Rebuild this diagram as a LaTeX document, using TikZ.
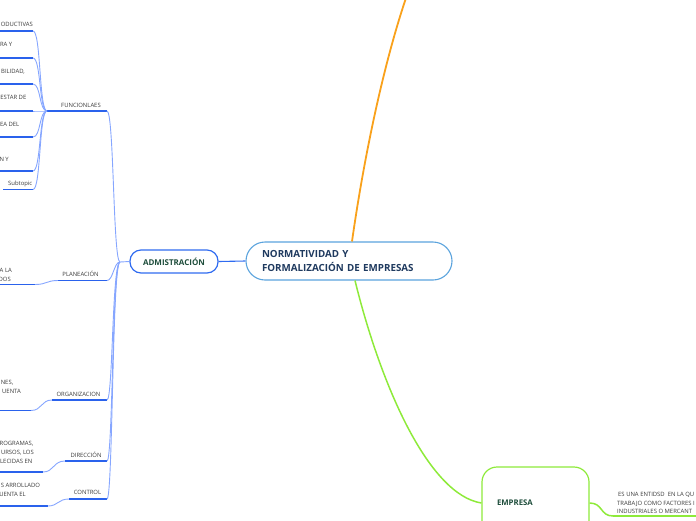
\documentclass[tikz,border=0pt]{standalone}
\usepackage{fontspec}
\setmainfont{Open Sans}
\definecolor{ublue}{HTML}{2A62EC}
\definecolor{cblue}{HTML}{86A6FF}
\definecolor{txtgray}{HTML}{3A3A3A}
\definecolor{mainborder}{HTML}{5BA3DD}
\definecolor{navy}{HTML}{1F3A5F}
\definecolor{admborder}{HTML}{2F6BF0}
\definecolor{dgreen}{HTML}{1E4D3B}
\definecolor{orangeline}{HTML}{F9A11B}
\definecolor{limeline}{HTML}{8EEA3A}
\begin{document}
\begin{tikzpicture}[x=1pt,y=-1pt,
  lab/.style={font=\fontsize{5.9}{7}\selectfont, text=txtgray, inner sep=0pt, text height=4.2pt, text depth=0pt},
  ul/.style={draw=ublue, line width=1.8pt},
  br/.style={draw=cblue, line width=0.9pt},
  central/.style={draw=mainborder, line width=1.1pt, rounded corners=19pt, minimum width=206pt, minimum height=38pt,
    text width=174pt, inner xsep=16pt, align=left, text=navy, font=\fontsize{9.8}{14.7}\selectfont\bfseries},
  admbox/.style={draw=admborder, line width=1.2pt, rounded corners=11pt, minimum width=88pt, minimum height=23pt,
    text=dgreen, font=\fontsize{8}{9}\selectfont\bfseries},
  empbox/.style={draw=limeline, line width=1.2pt, rounded corners=15pt, minimum width=107pt, minimum height=72pt,
    text width=77pt, inner xsep=15pt, align=left, text=dgreen, font=\fontsize{7.8}{9}\selectfont\bfseries},
  ol/.style={draw=orangeline, line width=1.8pt},
  gl/.style={draw=limeline, line width=1.5pt},
  gul/.style={draw=limeline, line width=2pt}
]
\useasboundingbox (0,0) rectangle (696,520);
\clip (0,0) rectangle (696,520);

% central and main branch
\node[central] (main) at (349,261) {NORMATIVIDAD Y\\FORMALIZACIÓN DE EMPRESAS};
\node[admbox] (adm) at (174,261.5) {ADMISTRACIÓN};
\draw[draw=admborder, line width=1.1pt] (main.west) -- (adm.east);
\coordinate (hub) at (120,262);
\draw[br] (adm.west) -- (hub);

% orange and green
\coordinate (otop) at (406,-2);
\draw[ol] ([xshift=3pt]main.north) .. controls (365,150) and (385,60) .. (otop);
\node[empbox] (emp) at (535.5,503) {EMPRESA};
\draw[gl] ([xshift=6pt]main.south) .. controls (382,390) and (430,495) .. (emp.west);
\coordinate (e1) at (613,516);
\coordinate (e2) at (700,516);
\draw[gl] (emp.east) .. controls (603,503) and (600,516) .. (e1);
\draw[gul] (e1) -- (e2);
\node[lab, anchor=west] (et1) at (618,494) {ES UNA ENTIDSD~ EN LA QU};
\node[lab, anchor=west] (et2) at (617,503) {TRABAJO COMO FACTORES I};
\node[lab, anchor=west] (et3) at (617,511.5) {INDUSTRIALES O MERCANT};

% FUNCIONLAES
\coordinate (f0) at (47,111);
\coordinate (f1) at (107,111);
\draw[ul] (f0) -- (f1);
\node[lab] (fun) at (81,105) {FUNCIONLAES};
\draw[br] (f1) .. controls (114,111) and (113,262) .. (hub);

\coordinate (a1l) at (-2,31);  \coordinate (a1r) at (33,31);
\coordinate (a2l) at (-2,58);  \coordinate (a2r) at (33,58);
\coordinate (a3l) at (-2,84);  \coordinate (a3r) at (33,84);
\coordinate (a4l) at (-2,111); \coordinate (a4r) at (33,111);
\coordinate (a5l) at (-2,137); \coordinate (a5r) at (33,137);
\coordinate (a6l) at (-2,171); \coordinate (a6r) at (33,171);
\coordinate (a7l) at (3,189.5);  \coordinate (a7r) at (33,189.5);
\foreach \i/\y in {1/31,2/58,3/84,4/111,5/137,6/171,7/189.5}{
  \draw[ul] (a\i l) -- (a\i r);
  \draw[br] (a\i r) .. controls (41,\y) and (39,111) .. (f0);
}
\node[lab, anchor=west] (a1t) at (0.6,24.5) {ODUCTIVAS};
\node[lab, anchor=east] (a2t) at (12.5,44) {RA Y};
\node[lab, anchor=east] (a3t) at (25,71) {BILIDAD,};
\node[lab, anchor=east] (a4t) at (26.5,97) {ESTAR DE};
\node[lab, anchor=east] (a5t) at (19.5,124) {EA DEL};
\node[lab, anchor=east] (a6t) at (9,159) {N Y};
\node[lab, anchor=west] (a7t) at (8,183.5) {Subtopic};

% PLANEACION
\coordinate (p0) at (58,280.5);
\coordinate (p1) at (107,280.5);
\draw[ul] (p0) -- (p1);
\node[lab] (pla) at (80.5,274.5) {PLANEACIÓN};
\draw[br] (p1) .. controls (113,280.5) and (114,262) .. (hub);
\coordinate (pcl) at (-2,284.5); \coordinate (pcr) at (35,284.5);
\draw[ul] (pcl) -- (pcr);
\draw[br] (pcr) .. controls (47,284.5) and (46,280.5) .. (p0);
\node[lab, anchor=east] (pt1) at (12,270) {A LA};
\node[lab, anchor=east] (pt2) at (11,279) {DOS};

% ORGANIZACION
\coordinate (o0) at (52,400);
\coordinate (o1) at (107,400);
\draw[ul] (o0) -- (o1);
\node[lab] (org) at (78.5,394) {ORGANIZACION};
\draw[br] (o1) .. controls (113,400) and (112,262) .. (hub);
\coordinate (ocl) at (-2,410.5); \coordinate (ocr) at (31,410.5);
\draw[ul] (ocl) -- (ocr);
\draw[br] (ocr) .. controls (42,410.5) and (41,400) .. (o0);
\node[lab, anchor=west] (ot1) at (0.6,382) {NES,};
\node[lab, anchor=east] (ot2) at (21,391) {UENTA};

% DIRECCION
\coordinate (d0) at (65,461);
\coordinate (d1) at (107,461);
\draw[ul] (d0) -- (d1);
\node[lab] (dir) at (86,455) {DIRECCIÓN};
\draw[br] (d1) .. controls (113,461) and (112,262) .. (hub);
\coordinate (dcl) at (-2,472); \coordinate (dcr) at (43,472);
\draw[ul] (dcl) -- (dcr);
\draw[br] (dcr) .. controls (54,472) and (53,461) .. (d0);
\node[lab, anchor=east] (dt1) at (33.5,443.5) {ROGRAMAS,};
\node[lab, anchor=east] (dt2) at (34,452) {URSOS, LOS};
\node[lab, anchor=east] (dt3) at (32.5,461) {LECIDAS EN};

% CONTROL
\coordinate (k0) at (69,499);
\coordinate (k1) at (107,499);
\draw[ul] (k0) -- (k1);
\node[lab] (con) at (87.5,492.5) {CONTROL};
\draw[br] (k1) .. controls (113,499) and (112,262) .. (hub);
\coordinate (kcl) at (-2,506); \coordinate (kcr) at (48,506);
\draw[ul] (kcl) -- (kcr);
\draw[br] (kcr) .. controls (58,506) and (58,499) .. (k0);
\node[lab, anchor=west] (kt1) at (0.6,485) {S ARROLLADO};
\node[lab, anchor=east] (kt2) at (26,494) {UENTA EL};
\end{tikzpicture}
\end{document}
